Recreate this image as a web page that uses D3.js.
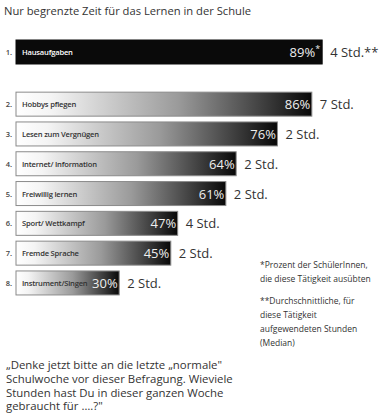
<!DOCTYPE html>
<html><head><meta charset="utf-8">
<script src="https://cdn.jsdelivr.net/npm/d3@7"></script>
<style>body{margin:0;background:#fff}svg{display:block}</style>
</head><body>
<script>
const categories = ["Hausaufgaben","Hobbys pflegen","Lesen zum Vergnügen","Internet/ Information","Freiwillig lernen","Sport/ Wettkampf","Fremde Sprache","Instrument/Singen"];
const percents = [89,86,76,64,61,47,45,30];
const hours = ["4 Std.**","7 Std.","2 Std.","2 Std.","2 Std.","4 Std.","2 Std.","2 Std."];
const title = "Nur begrenzte Zeit für das Lernen in der Schule";
const notes1 = ["*Prozent der SchülerInnen,","die diese Tätigkeit ausübten"];
const notes2 = ["**Durchschnittliche, für","diese  Tätigkeit","aufgewendeten Stunden","(Median)"];
const quote = ["„Denke jetzt bitte an die letzte „normale\"","Schulwoche vor dieser Befragung. Wieviele","Stunden hast Du in dieser ganzen Woche","gebraucht für ….?\""];

const W=383,H=420;
const svg=d3.select("body").append("svg").attr("width",W).attr("height",H);
const font="'Open Sans', 'Noto Sans', sans-serif";

const defs=svg.append("defs");
const grad=defs.append("linearGradient").attr("id","g").attr("x1","0").attr("x2","1").attr("y1","0").attr("y2","0");
grad.append("stop").attr("offset","0").attr("stop-color","#ffffff");
grad.append("stop").attr("offset","0.12").attr("stop-color","#f4f4f4");
grad.append("stop").attr("offset","0.55").attr("stop-color","#9a9a9a");
grad.append("stop").attr("offset","0.85").attr("stop-color","#3a3a3a");
grad.append("stop").attr("offset","1").attr("stop-color","#080808");

const x=d3.scaleLinear().domain([0,100]).range([16,360]);
const pos=categories.map((c,i)=> i===0?0:i+0.75);
const y=d3.scaleLinear().domain([0,1]).range([52,81.8]);
const bh=24;

svg.append("text").attr("x",4).attr("y",15).attr("font-family",font).attr("font-size",11.2).attr("fill","#333").text(title);

const g=svg.selectAll("g.bar").data(categories).join("g").attr("class","bar")
  .attr("transform",(d,i)=>`translate(0,${y(pos[i])})`);

g.append("rect").attr("x",x(0)).attr("y",-bh/2).attr("width",(d,i)=>x(percents[i])-x(0)).attr("height",bh)
  .attr("fill",(d,i)=>i===0?"#0a0a0a":"url(#g)").attr("stroke",(d,i)=>i===0?"#0a0a0a":"#8a8a8a").attr("stroke-width",1);

g.append("text").attr("x",12).attr("y",3).attr("text-anchor","end").attr("font-family",font).attr("font-size",7.5)
  .attr("font-weight",600).attr("fill","#444").text((d,i)=>(i+1)+".");

g.append("text").attr("x",22).attr("y",3).attr("font-family",font).attr("font-size",7.6).attr("font-weight",600)
  .attr("letter-spacing",-0.2)
  .attr("fill",(d,i)=>i===0?"#fff":"#333").text(d=>d);

g.append("text").attr("x",(d,i)=>x(percents[i])-(i===0?7:1.5)).attr("y",5).attr("text-anchor","end")
  .attr("font-family",font).attr("font-size",13).attr("fill","#eee").text((d,i)=>percents[i]+"%");
g.filter((d,i)=>i===0).append("text").attr("x",d=>x(percents[0])-2).attr("y",0).attr("text-anchor","end")
  .attr("font-family",font).attr("font-size",9).attr("fill","#eee").text("*");

g.append("text").attr("x",(d,i)=>x(percents[i])+8).attr("y",5).attr("font-family",font).attr("font-size",13)
  .attr("fill","#333").text((d,i)=>hours[i]);

svg.append("g").selectAll("text").data(notes1).join("text").attr("x",260).attr("y",(d,i)=>268+i*14)
  .attr("font-family",font).attr("font-size",8.5).attr("fill","#333").text(d=>d);
svg.append("g").selectAll("text").data(notes2).join("text").attr("x",260).attr("y",(d,i)=>304+i*14)
  .attr("font-family",font).attr("font-size",8.5).attr("fill","#333").text(d=>d);

svg.append("g").selectAll("text").data(quote).join("text").attr("x",6).attr("y",(d,i)=>369+i*13.8)
  .attr("font-family",font).attr("font-size",11.4).attr("fill","#333").text(d=>d);
</script>
</body></html>
